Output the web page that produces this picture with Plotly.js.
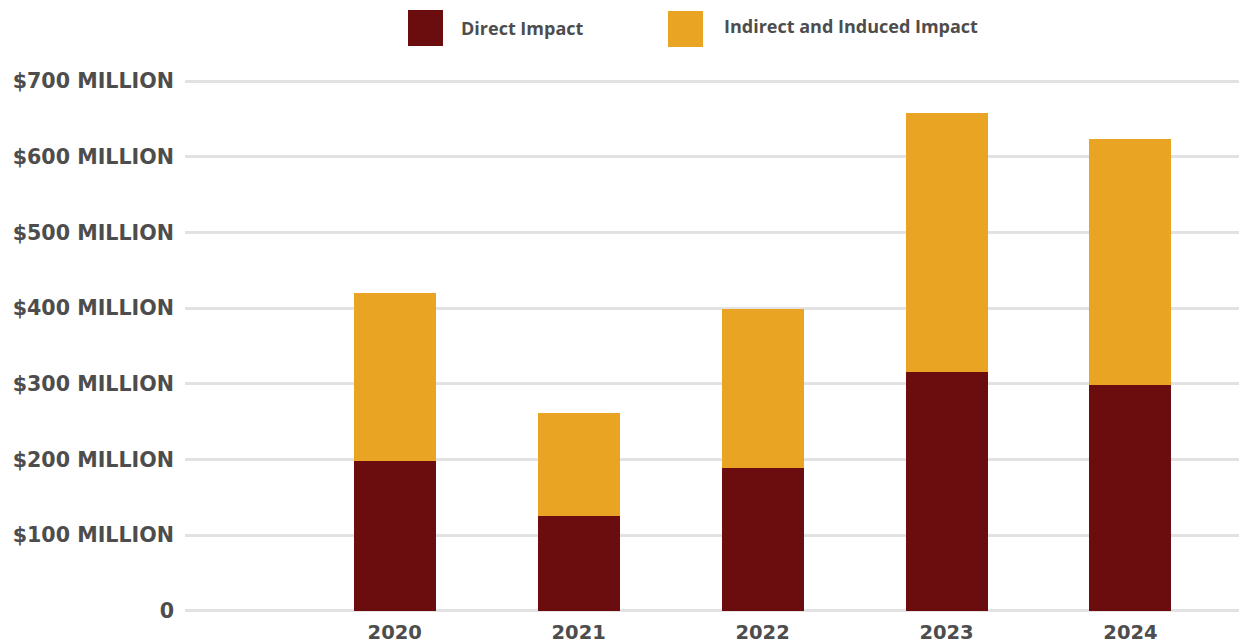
<!DOCTYPE html>
<html>
<head>
<meta charset="utf-8">
<script src="https://cdn.plot.ly/plotly-3.0.1.min.js"></script>
<style>html,body{margin:0;padding:0;background:#fff;}#chart{width:1239px;height:643px;}</style>
</head>
<body>
<div id="chart"></div>
<script>
// Data (in $ millions)
var years = [2020, 2021, 2022, 2023, 2024];
var directImpact = [198, 125, 189, 315, 298];
var indirectInducedImpact = [222, 137, 210, 343, 326];
var seriesNames = ["Direct Impact", "Indirect and Induced Impact"];
var yTickVals = [0, 100, 200, 300, 400, 500, 600, 700];
var yTickText = ["0", "$100 MILLION", "$200 MILLION", "$300 MILLION", "$400 MILLION", "$500 MILLION", "$600 MILLION", "$700 MILLION"];
var xTickText = ["2020", "2021", "2022", "2023", "2024"];

var colors = ["#6B0D0E", "#E9A424"];
var textColor = "#4d4d4d";

var traces = [
  {type: "bar", x: years, y: directImpact, name: seriesNames[0],
   marker: {color: colors[0], line: {width: 0}}, hoverinfo: "x+y+name"},
  {type: "bar", x: years, y: indirectInducedImpact, name: seriesNames[1],
   marker: {color: colors[1], line: {width: 0}}, hoverinfo: "x+y+name"}
];

// custom legend (large square swatches)
var legendItems = [
  {x0: 408, x1: 443, y0: 10, y1: 46, tx: 459, ty: 28},
  {x0: 668, x1: 703, y0: 11, y1: 47, tx: 722, ty: 26}
];
var shapes = [], annotations = [];
legendItems.forEach(function (it, i) {
  shapes.push({type: "rect", xref: "paper", yref: "paper",
    x0: (it.x0 - 185) / 1054, x1: (it.x1 - 185) / 1054,
    y0: 1 + (79 - it.y1) / 534, y1: 1 + (79 - it.y0) / 534,
    fillcolor: colors[i], line: {width: 0}});
  annotations.push({xref: "paper", yref: "paper", showarrow: false,
    x: (it.tx - 185) / 1054, y: 1 + (79 - it.ty) / 534,
    xanchor: "left", yanchor: "middle", text: "<b>" + seriesNames[i] + "</b>",
    font: {family: "Liberation Sans Narrow, Open Sans, sans-serif", size: 18, color: textColor}});
});

var layout = {
  width: 1239, height: 643,
  margin: {l: 185, r: 0, t: 79, b: 30},
  paper_bgcolor: "#ffffff", plot_bgcolor: "#ffffff",
  barmode: "stack", bargap: 0.554,
  showlegend: false,
  xaxis: {
    type: "linear", range: [2018.86, 2024.59],
    tickvals: years, ticktext: xTickText,
    showgrid: false, zeroline: false, showline: false, ticks: "",
    ticklabelstandoff: 5,
    tickfont: {family: "DejaVu Sans, sans-serif", size: 19.5, color: textColor, weight: "bold"},
    fixedrange: true
  },
  yaxis: {
    range: [-3, 703],
    tickvals: yTickVals, ticktext: yTickText,
    showgrid: true, gridcolor: "#e2e2e2", gridwidth: 3,
    zeroline: false, showline: false, ticks: "", ticklabelstandoff: 10,
    tickfont: {family: "DejaVu Sans, sans-serif", size: 20.6, color: textColor, weight: "bold"},
    fixedrange: true
  },
  shapes: shapes,
  annotations: annotations
};

Plotly.newPlot("chart", traces, layout, {displayModeBar: false, staticPlot: true});
</script>
</body>
</html>
